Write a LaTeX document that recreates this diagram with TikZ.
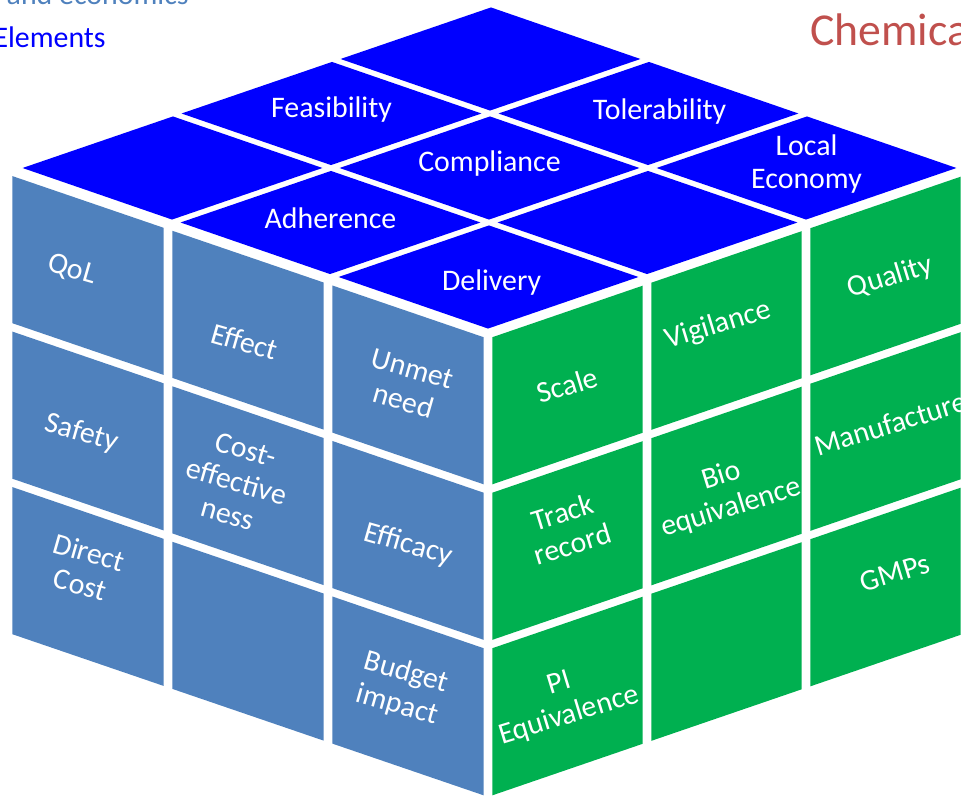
\documentclass[tikz,border=0pt]{standalone}
\usepackage{fontspec}
\setmainfont{Carlito}

\definecolor{topblue}{RGB}{0,0,255}
\definecolor{leftblue}{RGB}{79,129,189}
\definecolor{rightgreen}{RGB}{0,176,80}
\definecolor{titlered}{RGB}{192,80,77}

\tikzset{
  topcell/.style={fill=topblue},
  leftcell/.style={fill=leftblue},
  rightcell/.style={fill=rightgreen},
  celltext/.style={text=white, align=center, inner sep=0pt,
    font=\fontsize{17}{19}\selectfont},
  toptext/.style={celltext, yshift=0.8mm},
  lefttext/.style={celltext, rotate=-16},
  righttext/.style={celltext, rotate=17},
  heading/.style={inner sep=0pt}
}

\begin{document}
\begin{tikzpicture}[x=0.2mm,y=0.2mm]
  \useasboundingbox (0,0) rectangle (961,797);
  \clip (0,0) rectangle (961,797);
  \def\g{0.027}% half the gap between two cells

  % headings
  \node[heading, anchor=base east, text=leftblue, font=\fontsize{17}{19}\selectfont] (econ) at (189,792) {and economics};
  \node[heading, anchor=base east, text=topblue, font=\fontsize{17}{19}\selectfont] (elem) at (106,749) {Elements};
  \node[heading, anchor=base west, text=titlered, font=\fontsize{26}{30}\selectfont] (chem) at (810,751) {Chemica};

  % the cube: x runs to the left, y up, z to the right
  \begin{scope}[shift={(488,462.5)}, x={(-32mm,10.94mm)}, y={(0mm,31.1mm)}, z={(31.8mm,10.9mm)}]
    \foreach \i in {0,1,2}
      \foreach \j in {0,1,2} {
        \fill[leftcell] (\i+\g,-\j-\g,0) -- (\i+1-\g,-\j-\g,0) -- (\i+1-\g,-\j-1+\g,0) -- (\i+\g,-\j-1+\g,0) -- cycle;
        \fill[rightcell] (0,-\j-\g,\i+\g) -- (0,-\j-\g,\i+1-\g) -- (0,-\j-1+\g,\i+1-\g) -- (0,-\j-1+\g,\i+\g) -- cycle;
      }
    \begin{scope}[yshift=0.6mm, x={(-31.6mm,10.9mm)}]
      \foreach \i in {0,1,2}
        \foreach \j in {0,1,2}
          \fill[topcell] (\i+\g,0,\j+\g) -- (\i+1-\g,0,\j+\g) -- (\i+1-\g,0,\j+1-\g) -- (\i+\g,0,\j+1-\g) -- cycle;

      % top face
      \node[toptext] (deliv) at (0.4,0,0.42) {Delivery};
      \node[toptext] (adh) at (1.5,0,0.5) {Adherence};
      \node[toptext] (comp) at (1.5,0,1.5) {Compliance};
      \node[toptext] (feas) at (2.5,0,1.5) {Feasibility};
      \node[toptext] (tol) at (1.45,0,2.52) {Tolerability};
      \node[toptext] (local) at (0.5,0,2.5) {Local\\Economy};
    \end{scope}

    % left face
    \node[lefttext] (qol) at (2.6,-0.5,0) {QoL};
    \node[lefttext] (effect) at (1.52,-0.58,0) {Effect};
    \node[lefttext] (unmet) at (0.5,-0.5,0) {Unmet\\need};
    \node[lefttext] (safety) at (2.54,-1.53,0) {Safety};
    \node[lefttext] (costeff) at (1.57,-1.5,0) {Cost-\\effective\\ness};
    \node[lefttext] (efficacy) at (0.5,-1.53,0) {Efficacy};
    \node[lefttext] (direct) at (2.52,-2.39,0) {Direct\\Cost};
    \node[lefttext] (budget) at (0.54,-2.47,0) {Budget\\impact};

    % right face
    \node[righttext] (scale) at (0,-0.5,0.5) {Scale};
    \node[righttext] (vigil) at (0,-0.45,1.45) {Vigilance};
    \node[righttext] (quality) at (0,-0.52,2.53) {Quality};
    \node[righttext] (track) at (0,-1.42,0.5) {Track\\record};
    \node[righttext] (bio) at (0,-1.54,1.5) {Bio\\equivalence};
    \node[righttext] (manuf) at (0,-1.46,2.53) {Manufacture};
    \node[righttext] (pi) at (0,-2.52,0.48) {PI\\Equivalence};
    \node[righttext] (gmps) at (0,-2.43,2.56) {GMPs};
  \end{scope}
\end{tikzpicture}
\end{document}
